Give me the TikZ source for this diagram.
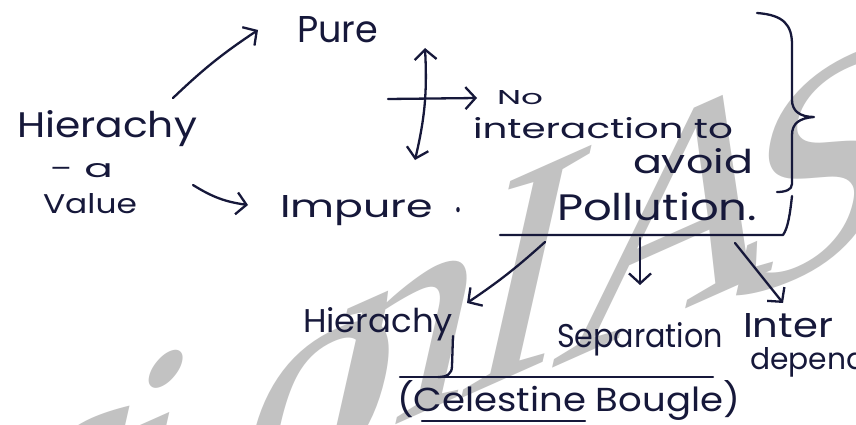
\documentclass[tikz,border=0pt]{standalone}
\usepackage{fontspec}
\usepackage{graphicx}
\setmainfont{Poppins}
\newfontfamily\wmfont{Liberation Serif}
\usetikzlibrary{arrows.meta}
\definecolor{ink}{RGB}{22,24,58}
\definecolor{wmgray}{RGB}{194,194,194}
\newcommand{\hw}[3]{\resizebox{#1pt}{#2pt}{\fontsize{30}{36}\selectfont #3}}
\begin{document}
\begin{tikzpicture}[x=1pt,y=-1pt,
  lbl/.style={inner sep=0pt, outer sep=0pt, anchor=base west, text=ink},
  wm/.style={inner sep=0pt, outer sep=0pt, anchor=base, text=wmgray,
    cm={0.914,0.407,0.22,0.975,(0,0)}, font=\wmfont\fontsize{340}{340}\selectfont},
  pen/.style={draw=ink, line width=2.3pt, line cap=round, line join=round},
  arr/.style={pen, -{Straight Barb[length=10pt,width=22pt]}},
  darr/.style={pen, {Straight Barb[length=10pt,width=22pt]}-{Straight Barb[length=10pt,width=22pt]}}
]
\fill[white] (0,0) rectangle (856,425);
\useasboundingbox (0,0) rectangle (856,425);
% watermark "VisionIAS"
\node[wm] (wmV) at (-188,720) {V};
\node[wm] (wmi1) at (-33,651) {i};
\node[wm] (wms) at (57,575) {s};
\node[wm] (wmi2) at (123,570) {i};
\node[wm] (wmo) at (302,485) {o};
\node[wm] (wmn) at (384,430) {n};
\node[wm] (wmI) at (502,380) {I};
\node[wm] (wmA) at (662,320) {A};
\node[wm] (wmS) at (800,275) {S};
% texts
\node[lbl] (pure) at (297,43) {\hw{81}{26}{Pure}};
\node[lbl] (hier) at (17,138) {\hw{180}{27}{Hierachy}};
\node[lbl] (dasha) at (50,177) {\hw{63}{14}{- a}};
\node[lbl] (value) at (43,213) {\hw{94}{20}{Value}};
\node[lbl] (impure) at (280,217) {\hw{153}{22}{Impure}};
\node[lbl] (dot) at (455,212) {\hw{6}{5}{.}};
\node[lbl] (no) at (497,104) {\hw{46}{14}{No}};
\node[lbl] (inter) at (473,139) {\hw{260}{21}{interaction to}};
\node[lbl] (avoid) at (633,173) {\hw{120}{25}{avoid}};
\node[lbl] (poll) at (557,220) {\hw{200}{28}{Pollution.}};
\node[lbl] (hierb) at (303,332) {\hw{150}{25}{Hierachy}};
\node[lbl] (sep) at (557,347) {\hw{166}{25}{Separation}};
\node[lbl] (interd) at (743,337) {\hw{90}{24}{Inter}};
\node[lbl] (dep) at (750,369) {\resizebox{!}{22pt}{\fontsize{30}{36}\selectfont dependence}};
\node[lbl] (cel) at (397,411) {\hw{343}{31}{(Celestine Bougle)}};
% coordinates
\coordinate (a1s) at (173,98);  \coordinate (a1e) at (258,30);
\coordinate (a2s) at (193,185); \coordinate (a2e) at (248,205);
\coordinate (v1) at (425,48);   \coordinate (v2) at (415,160);
\coordinate (h1) at (388,99);   \coordinate (h2) at (477,98);
\coordinate (lineL) at (500,235); \coordinate (lineR) at (783,235);
\coordinate (b1s) at (545,242); \coordinate (b1e) at (467,303);
\coordinate (b2s) at (640,238); \coordinate (b2e) at (640,285);
\coordinate (b3s) at (735,243); \coordinate (b3e) at (783,303);
\coordinate (ytail) at (453,336);
\coordinate (lowL) at (400,377); \coordinate (lowR) at (713,377);
\coordinate (ulL) at (422,421); \coordinate (ulR) at (585,421);
% connectors
\draw[arr] (a1s) to[bend left=5] (a1e);
\draw[arr] (a2s) to[bend right=12] (a2e);
\draw[darr] (v1) to[bend left=8] (v2);
\draw[arr] (h1) -- (h2);
\draw[pen] (757,13) .. controls (784,15) and (792,25) .. (792,45) -- (792,100)
  .. controls (792,111) and (800,117) .. (814,117)
  .. controls (800,118) and (792,123) .. (792,135) -- (792,184)
  .. controls (792,190) and (785,192) .. (777,192);
\draw[pen] (792,196) .. controls (790,214) and (788,228) .. (lineR) -- (lineL);
\draw[arr] (b1s) to[bend left=4] (b1e);
\draw[arr] (b2s) -- (b2e);
\draw[arr] (b3s) -- (b3e);
\draw[pen] (ytail) -- (452,366) .. controls (452,374) and (447,377) .. (438,377);
\draw[pen] (lowL) -- (lowR);
\draw[pen] (ulL) -- (ulR);
\end{tikzpicture}
\end{document}
